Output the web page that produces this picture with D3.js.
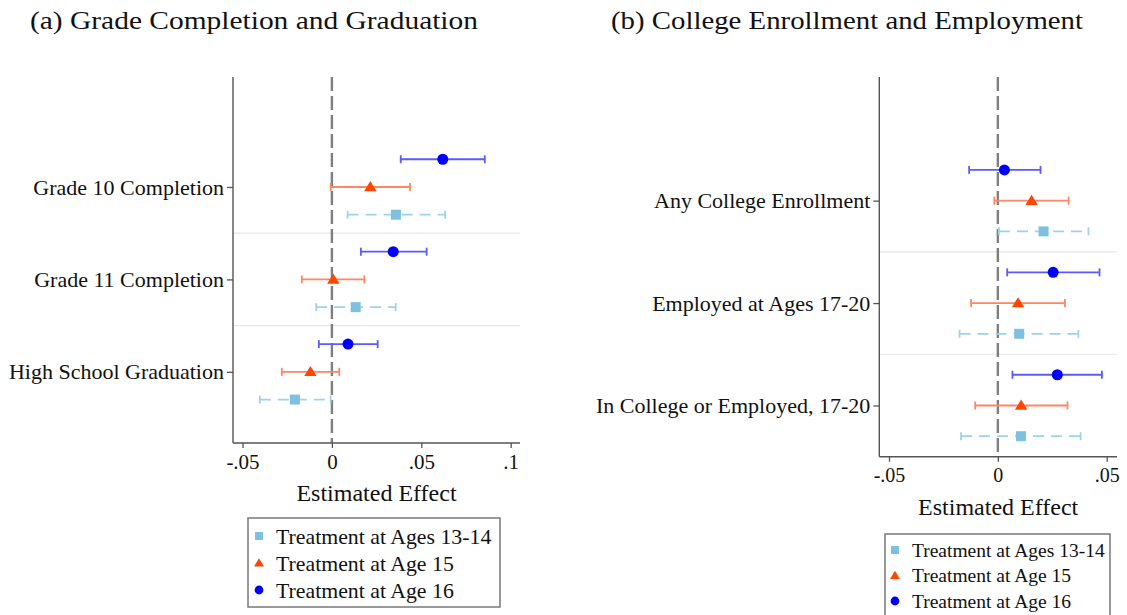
<!DOCTYPE html>
<html>
<head>
<meta charset="utf-8">
<script src="https://cdn.jsdelivr.net/npm/d3@7"></script>
<style>
  html, body { margin: 0; padding: 0; background: #fff; }
  svg { display: block; }
  text { font-family: "Liberation Serif", "Times New Roman", serif; fill: #111; }
</style>
</head>
<body>
<svg id="chart" width="1127" height="615"></svg>
<script>
// ---- data ----
const seriesNames = ["Treatment at Ages 13-14", "Treatment at Age 15", "Treatment at Age 16"];

// Panel (a): grade completion and graduation
const outcomesA = ["Grade 10 Completion", "Grade 11 Completion", "High School Graduation"];
const estA_1314 = [0.0358, 0.0133, -0.0207];
const loA_1314  = [0.0088, -0.0088, -0.0403];
const hiA_1314  = [0.0634, 0.0357, -0.0007];
const estA_15   = [0.0215, 0.0008, -0.0120];
const loA_15    = [-0.0007, -0.0168, -0.0280];
const hiA_15    = [0.0437, 0.0181, 0.0041];
const estA_16   = [0.0620, 0.0343, 0.0090];
const loA_16    = [0.0385, 0.0162, -0.0073];
const hiA_16    = [0.0855, 0.0530, 0.0256];
const ticksA = [-0.05, 0, 0.05, 0.1];
const tickLabelsA = ["-.05", "0", ".05", ".1"];

// Panel (b): college enrollment and employment
const outcomesB = ["Any College Enrollment", "Employed at Ages 17-20", "In College or Employed, 17-20"];
const estB_1314 = [0.0210, 0.0098, 0.0106];
const loB_1314  = [0.0005, -0.0176, -0.0169];
const hiB_1314  = [0.0416, 0.0370, 0.0380];
const estB_15   = [0.0155, 0.0093, 0.0107];
const loB_15    = [-0.0016, -0.0123, -0.0104];
const hiB_15    = [0.0325, 0.0308, 0.0320];
const estB_16   = [0.0030, 0.0254, 0.0273];
const loB_16    = [-0.0132, 0.0043, 0.0067];
const hiB_16    = [0.0196, 0.0467, 0.0478];
const ticksB = [-0.05, 0, 0.05];
const tickLabelsB = ["-.05", "0", ".05"];

// ---- styles per series ----
const styles = [
  { shape: "square",   marker: "#7EC0E0", bar: "#9CD2EA", dash: "11,7", offset: 0.3 },
  { shape: "triangle", marker: "#FF4500", bar: "#FF8663", dash: null,   offset: 0 },
  { shape: "circle",   marker: "#0000FF", bar: "#5A5AFF", dash: null,   offset: -0.3 }
];

const svg = d3.select("#chart");

function drawMarker(g, shape, color, x, y, s) {
  if (shape === "circle") {
    g.append("circle").attr("cx", x).attr("cy", y).attr("r", s * 0.55).attr("fill", color);
  } else if (shape === "square") {
    g.append("rect").attr("x", x - s / 2).attr("y", y - s / 2).attr("width", s).attr("height", s).attr("fill", color);
  } else {
    const h = s * 0.95;
    g.append("path")
      .attr("d", `M${x},${y - h * 0.62} L${x + s * 0.62},${y + h * 0.45} L${x - s * 0.62},${y + h * 0.45} Z`)
      .attr("fill", color);
  }
}

function panel(cfg) {
  const g = svg.append("g");
  const x = d3.scaleLinear().domain(cfg.tickDomain).range(cfg.tickRange);
  const y = d3.scaleLinear().domain(cfg.yDomain).range([cfg.top, cfg.bottom]);

  // separators between outcome groups
  for (let i = 0; i < cfg.outcomes.length - 1; i++) {
    g.append("line")
      .attr("x1", cfg.left).attr("x2", cfg.right)
      .attr("y1", y(i + 0.5)).attr("y2", y(i + 0.5))
      .attr("stroke", "#e6e6e6").attr("stroke-width", 1.2);
  }

  // zero reference line
  g.append("line")
    .attr("x1", x(0)).attr("x2", x(0))
    .attr("y1", cfg.top).attr("y2", cfg.bottom)
    .attr("stroke", "#7f7f7f").attr("stroke-width", 2.4)
    .attr("stroke-dasharray", "14,5");

  // x axis
  const xAxis = d3.axisBottom(x).tickValues(cfg.ticks)
    .tickFormat((d, i) => cfg.tickLabels[i]).tickSize(5).tickPadding(6);
  const gx = g.append("g").attr("transform", `translate(0,${cfg.bottom})`).call(xAxis);
  gx.select(".domain").remove();
  gx.selectAll(".tick line").attr("stroke", "#555").attr("stroke-width", 1.3);
  gx.selectAll(".tick text").attr("font-family", "Liberation Serif, serif")
    .attr("font-size", cfg.tickFont).attr("fill", "#111");
  g.append("line").attr("x1", cfg.left).attr("x2", cfg.right)
    .attr("y1", cfg.bottom).attr("y2", cfg.bottom)
    .attr("stroke", "#555").attr("stroke-width", 1.4);

  // y axis
  const yAxis = d3.axisLeft(y).tickValues(d3.range(cfg.outcomes.length))
    .tickFormat(i => cfg.outcomes[i]).tickSize(6).tickPadding(3);
  const gy = g.append("g").attr("transform", `translate(${cfg.left},0)`).call(yAxis);
  gy.select(".domain").remove();
  gy.selectAll(".tick line").attr("stroke", "#555").attr("stroke-width", 1.3);
  gy.selectAll(".tick text").attr("font-family", "Liberation Serif, serif")
    .attr("font-size", cfg.catFont).attr("fill", "#111");
  g.append("line").attr("x1", cfg.left).attr("x2", cfg.left)
    .attr("y1", cfg.top).attr("y2", cfg.bottom)
    .attr("stroke", "#555").attr("stroke-width", 1.4);

  // axis title
  g.append("text").attr("x", (cfg.left + cfg.right) / 2).attr("y", cfg.xTitleY)
    .attr("text-anchor", "middle").attr("font-size", 24).text("Estimated Effect");

  // estimates with confidence intervals
  cfg.series.forEach((s, k) => {
    const st = styles[k];
    s.est.forEach((v, i) => {
      const yy = y(i + st.offset);
      const bar = g.append("g");
      bar.append("line")
        .attr("x1", x(s.lo[i])).attr("x2", x(s.hi[i]))
        .attr("y1", yy).attr("y2", yy)
        .attr("stroke", st.bar).attr("stroke-width", 1.8)
        .attr("stroke-dasharray", st.dash);
      [s.lo[i], s.hi[i]].forEach(e => {
        bar.append("line")
          .attr("x1", x(e)).attr("x2", x(e))
          .attr("y1", yy - 4).attr("y2", yy + 4)
          .attr("stroke", st.bar).attr("stroke-width", 1.8);
      });
      drawMarker(g, st.shape, st.marker, x(v), yy, 10);
    });
  });

  // legend
  const lg = g.append("g");
  lg.append("rect")
    .attr("x", cfg.legend.x).attr("y", cfg.legend.y)
    .attr("width", cfg.legend.w).attr("height", cfg.legend.h)
    .attr("fill", "#fff").attr("stroke", "#808080").attr("stroke-width", 1.6);
  seriesNames.forEach((name, k) => {
    const ry = cfg.legend.y + cfg.legend.first + k * cfg.legend.step;
    drawMarker(lg, styles[k].shape, styles[k].marker, cfg.legend.x + cfg.legend.mx, ry, 8);
    lg.append("text")
      .attr("x", cfg.legend.x + cfg.legend.tx).attr("y", ry)
      .attr("dy", "0.35em").attr("font-size", cfg.legend.font).text(name);
  });
}

panel({
  outcomes: outcomesA,
  series: [
    { est: estA_1314, lo: loA_1314, hi: hiA_1314 },
    { est: estA_15,   lo: loA_15,   hi: hiA_15 },
    { est: estA_16,   lo: loA_16,   hi: hiA_16 }
  ],
  ticks: ticksA, tickLabels: tickLabelsA,
  tickDomain: [-0.05, 0.1], tickRange: [242.5, 510.7],
  left: 233, right: 520, top: 77, bottom: 443,
  yDomain: [-1.19, 2.77],
  tickFont: 21, catFont: 22, xTitleY: 501,
  legend: { x: 248, y: 518, w: 252, h: 89, first: 18, step: 27, mx: 11, tx: 28, font: 21.8 }
});

panel({
  outcomes: outcomesB,
  series: [
    { est: estB_1314, lo: loB_1314, hi: hiB_1314 },
    { est: estB_15,   lo: loB_15,   hi: hiB_15 },
    { est: estB_16,   lo: loB_16,   hi: hiB_16 }
  ],
  ticks: ticksB, tickLabels: tickLabelsB,
  tickDomain: [-0.05, 0.05], tickRange: [889, 1106.7],
  left: 879.3, right: 1117, top: 77, bottom: 456.7,
  yDomain: [-1.207, 2.5],
  tickFont: 20, catFont: 22, xTitleY: 515,
  legend: { x: 885, y: 534, w: 225, h: 90, first: 16, step: 25.5, mx: 10, tx: 27, font: 19.5 }
});

// panel titles
svg.append("text").attr("x", 30).attr("y", 29).attr("font-size", 26)
  .attr("textLength", 448).attr("lengthAdjust", "spacingAndGlyphs")
  .text("(a) Grade Completion and Graduation");
svg.append("text").attr("x", 611).attr("y", 29).attr("font-size", 26)
  .attr("textLength", 472).attr("lengthAdjust", "spacingAndGlyphs")
  .text("(b) College Enrollment and Employment");
</script>
</body>
</html>
